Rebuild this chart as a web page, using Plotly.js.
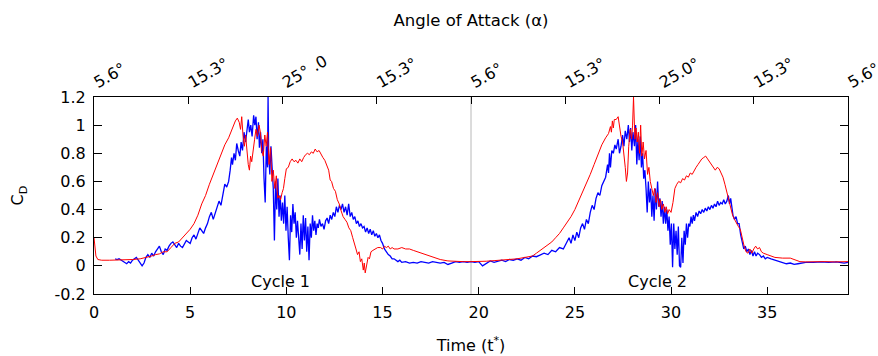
<!DOCTYPE html>
<html><head><meta charset="utf-8">
<script src="https://cdn.plot.ly/plotly-3.0.1.min.js"></script>
<style>html,body{margin:0;padding:0;background:#fff;}#chart{width:878px;height:356px;}</style>
</head><body><div id="chart"></div>
<script>
// ---- data ----
const redT = [0,0.05,0.1,0.2,0.4,0.8,1.2,1.6,2.0,2.4,2.8,3.0,3.2,3.4,3.6,3.8,4.0,4.2,4.4,4.6,4.8,5.0,5.2,5.4,5.6,5.8,6.0,6.2,6.4,6.6,6.8,7.0,7.2,7.35,7.45,7.55,7.62,7.68,7.75,7.82,7.88,7.95,8.02,8.08,8.14,8.2,8.28,8.35,8.42,8.5,8.58,8.65,8.72,8.8,8.88,8.95,9.02,9.1,9.18,9.25,9.32,9.4,9.48,9.55,9.62,9.7,9.78,9.85,9.92,10.0,10.1,10.2,10.3,10.4,10.5,10.6,10.7,10.8,10.9,11.0,11.1,11.2,11.3,11.4,11.5,11.6,11.7,11.8,11.9,12.0,12.1,12.2,12.28,12.35,12.45,12.55,12.65,12.75,12.85,12.95,13.05,13.15,13.25,13.35,13.45,13.55,13.62,13.7,13.78,13.85,13.92,14.0,14.05,14.1,14.18,14.25,14.32,14.4,14.5,14.6,14.75,14.9,15.0,15.1,15.2,15.3,15.4,15.5,15.6,15.8,16.0,16.2,16.4,16.6,16.8,17.0,17.2,17.4,17.6,17.8,18.0,18.4,18.8,19.2,19.6,20.0,20.4,20.8,21.2,21.6,22.0,22.4,22.8,23.0,23.2,23.4,23.6,23.8,24.0,24.2,24.4,24.6,24.8,25.0,25.2,25.4,25.6,25.8,26.0,26.2,26.4,26.6,26.75,26.85,26.9,26.95,27.0,27.05,27.15,27.25,27.32,27.4,27.48,27.55,27.62,27.68,27.74,27.8,27.88,27.95,28.0,28.05,28.12,28.18,28.24,28.3,28.36,28.42,28.48,28.55,28.62,28.7,28.78,28.85,28.92,29.0,29.08,29.15,29.22,29.3,29.38,29.45,29.52,29.6,29.68,29.75,29.82,29.9,30.0,30.1,30.2,30.3,30.4,30.5,30.6,30.7,30.8,30.9,31.0,31.1,31.2,31.3,31.4,31.5,31.6,31.7,31.8,31.9,32.0,32.1,32.2,32.3,32.4,32.5,32.6,32.7,32.8,32.9,33.0,33.1,33.2,33.3,33.4,33.5,33.6,33.7,33.8,33.9,34.0,34.1,34.2,34.3,34.4,34.5,34.6,34.7,34.8,35.0,35.2,35.4,35.8,36.2,36.5,36.7,37.0,37.5,38.0,38.5,39.0,39.2];
const redCD = [0.20,0.12,0.07,0.045,0.04,0.04,0.04,0.042,0.045,0.05,0.06,0.07,0.08,0.085,0.1,0.1,0.13,0.16,0.17,0.2,0.23,0.26,0.3,0.36,0.44,0.5,0.58,0.65,0.72,0.8,0.86,0.91,0.98,1.03,1.05,1.02,0.97,1.06,0.92,0.85,0.93,0.8,0.72,0.68,0.78,0.74,0.85,0.9,0.97,0.92,1.0,0.95,0.82,0.78,0.93,0.85,0.95,0.72,0.84,0.6,0.68,0.55,0.64,0.48,0.5,0.47,0.52,0.55,0.62,0.69,0.7,0.74,0.76,0.74,0.75,0.73,0.76,0.74,0.77,0.79,0.8,0.79,0.81,0.8,0.83,0.81,0.82,0.79,0.77,0.75,0.72,0.68,0.61,0.6,0.55,0.53,0.47,0.44,0.39,0.35,0.33,0.31,0.27,0.25,0.2,0.16,0.12,0.08,0.1,0.03,0.05,-0.03,0.02,-0.05,0.0,0.06,0.05,0.1,0.11,0.12,0.13,0.13,0.12,0.14,0.13,0.14,0.12,0.13,0.12,0.12,0.13,0.12,0.12,0.11,0.1,0.09,0.08,0.07,0.06,0.05,0.045,0.035,0.03,0.03,0.03,0.03,0.033,0.037,0.04,0.045,0.05,0.06,0.07,0.09,0.11,0.13,0.15,0.17,0.2,0.23,0.27,0.31,0.35,0.4,0.46,0.52,0.58,0.65,0.72,0.79,0.86,0.91,0.94,0.99,0.95,1.03,0.98,1.04,1.04,1.06,0.98,0.92,0.88,0.8,0.7,0.6,0.66,0.85,0.97,0.9,1.0,1.2,0.9,0.98,0.88,0.95,0.8,1.0,0.78,0.88,0.76,0.82,0.65,0.7,0.6,0.55,0.5,0.55,0.45,0.52,0.42,0.47,0.4,0.44,0.38,0.42,0.37,0.4,0.38,0.45,0.55,0.58,0.6,0.59,0.62,0.61,0.64,0.63,0.66,0.65,0.68,0.7,0.72,0.74,0.76,0.77,0.78,0.76,0.74,0.72,0.7,0.68,0.7,0.69,0.66,0.63,0.58,0.53,0.47,0.41,0.36,0.33,0.3,0.28,0.26,0.19,0.14,0.1,0.09,0.12,0.09,0.12,0.14,0.12,0.13,0.1,0.09,0.08,0.07,0.06,0.055,0.055,0.04,0.03,0.028,0.03,0.03,0.028,0.03,0.03];

const blueT = [1.1,1.2,1.3,1.4,1.5,1.6,1.7,1.8,1.9,2.0,2.1,2.2,2.3,2.4,2.5,2.6,2.7,2.8,2.9,3.0,3.1,3.2,3.3,3.4,3.5,3.6,3.7,3.8,3.9,4.0,4.1,4.2,4.3,4.4,4.5,4.6,4.7,4.8,4.9,5.0,5.1,5.2,5.3,5.4,5.5,5.6,5.7,5.8,5.9,6.0,6.1,6.2,6.3,6.4,6.5,6.6,6.7,6.8,6.9,7.0,7.08,7.15,7.2,7.28,7.35,7.42,7.5,7.58,7.65,7.72,7.8,7.88,7.95,8.02,8.08,8.15,8.22,8.3,8.36,8.42,8.48,8.55,8.6,8.66,8.72,8.78,8.84,8.9,8.96,9.02,9.05,9.08,9.14,9.2,9.26,9.32,9.38,9.44,9.5,9.56,9.62,9.68,9.74,9.8,9.86,9.92,9.98,10.04,10.1,10.16,10.22,10.28,10.34,10.4,10.46,10.52,10.58,10.64,10.7,10.76,10.82,10.88,10.94,11.0,11.06,11.12,11.18,11.24,11.3,11.36,11.42,11.48,11.54,11.6,11.66,11.72,11.8,11.88,11.96,12.04,12.12,12.2,12.28,12.36,12.44,12.52,12.6,12.68,12.76,12.84,12.92,13.0,13.08,13.16,13.24,13.32,13.4,13.48,13.56,13.64,13.72,13.8,13.88,13.96,14.04,14.12,14.2,14.28,14.36,14.44,14.52,14.6,14.68,14.76,14.84,14.92,15.0,15.1,15.2,15.3,15.4,15.5,15.6,15.7,15.8,15.9,16.0,16.2,16.4,16.6,16.8,17.0,17.2,17.4,17.6,17.8,18.0,18.2,18.4,18.6,18.8,19.0,19.2,19.4,19.6,19.8,20.0,20.2,20.4,20.6,20.8,21.0,21.2,21.4,21.6,21.8,22.0,22.2,22.4,22.6,22.8,23.0,23.2,23.4,23.6,23.8,24.0,24.2,24.4,24.6,24.7,24.8,24.9,25.0,25.1,25.2,25.3,25.4,25.5,25.6,25.7,25.8,25.9,26.0,26.1,26.2,26.3,26.4,26.5,26.6,26.7,26.75,26.8,26.85,26.92,27.0,27.08,27.15,27.25,27.32,27.4,27.48,27.55,27.62,27.7,27.78,27.84,27.9,27.96,28.02,28.1,28.16,28.22,28.28,28.34,28.4,28.46,28.52,28.58,28.64,28.7,28.76,28.82,28.88,28.94,29.0,29.06,29.12,29.18,29.24,29.3,29.36,29.42,29.48,29.54,29.6,29.66,29.72,29.78,29.84,29.9,29.96,30.02,30.08,30.14,30.2,30.26,30.32,30.38,30.44,30.5,30.56,30.62,30.68,30.74,30.8,30.86,30.92,30.98,31.04,31.1,31.16,31.22,31.3,31.38,31.46,31.54,31.62,31.7,31.78,31.86,31.94,32.02,32.1,32.18,32.26,32.34,32.42,32.5,32.58,32.66,32.74,32.82,32.9,32.98,33.04,33.1,33.16,33.22,33.3,33.38,33.46,33.54,33.62,33.7,33.78,33.86,33.94,34.02,34.1,34.18,34.26,34.34,34.42,34.5,34.6,34.7,34.8,34.9,35.0,35.2,35.4,35.6,35.8,36.0,36.2,36.4,36.6,36.8,37.0,37.4,37.8,38.2,38.6,39.0,39.2];
const blueCD = [0.05,0.045,0.05,0.04,0.035,0.025,0.015,0.03,0.02,0.04,0.05,0.06,0.04,0.02,0.0,0.02,0.06,0.08,0.06,0.09,0.07,0.1,0.12,0.14,0.1,0.08,0.12,0.11,0.14,0.16,0.17,0.15,0.13,0.16,0.14,0.13,0.16,0.18,0.17,0.16,0.2,0.22,0.19,0.24,0.27,0.25,0.23,0.27,0.3,0.35,0.38,0.33,0.37,0.42,0.46,0.43,0.5,0.58,0.56,0.6,0.68,0.77,0.72,0.8,0.75,0.87,0.82,0.78,0.88,0.82,0.95,0.88,0.96,1.04,0.95,1.0,0.92,1.07,1.0,1.06,0.9,1.02,0.84,0.95,0.8,0.9,0.62,0.45,0.85,0.7,1.2,0.8,0.65,0.85,0.7,0.55,0.18,0.6,0.4,0.62,0.35,0.5,0.32,0.45,0.3,0.5,0.25,0.42,0.2,0.04,0.36,0.24,0.44,0.3,0.38,0.2,0.32,0.15,0.08,0.3,0.12,0.36,0.18,0.34,0.1,0.28,0.04,0.3,0.2,0.36,0.25,0.32,0.22,0.3,0.27,0.33,0.28,0.3,0.26,0.32,0.34,0.3,0.36,0.33,0.38,0.35,0.42,0.38,0.43,0.4,0.44,0.38,0.42,0.36,0.44,0.35,0.38,0.33,0.35,0.3,0.32,0.28,0.3,0.27,0.28,0.24,0.27,0.23,0.26,0.22,0.25,0.21,0.23,0.2,0.22,0.18,0.16,0.12,0.1,0.08,0.07,0.05,0.05,0.04,0.03,0.04,0.025,0.03,0.02,0.025,0.02,0.03,0.025,0.02,0.03,0.025,0.02,0.025,0.01,0.02,0.03,0.025,0.03,0.025,0.03,0.025,0.03,0.0,0.02,0.035,0.025,0.03,0.04,0.03,0.045,0.04,0.05,0.04,0.06,0.05,0.07,0.065,0.08,0.09,0.08,0.11,0.1,0.13,0.12,0.17,0.2,0.16,0.22,0.18,0.24,0.2,0.27,0.3,0.26,0.33,0.3,0.38,0.43,0.4,0.48,0.52,0.5,0.57,0.6,0.63,0.72,0.66,0.8,0.7,0.82,0.8,0.86,0.83,0.9,0.8,0.85,0.93,0.85,0.96,0.9,1.0,0.88,0.98,0.82,0.95,0.85,1.0,0.72,0.9,0.75,0.92,0.7,0.8,0.62,0.68,0.55,0.38,0.6,0.45,0.55,0.35,0.5,0.32,0.55,0.4,0.6,0.42,0.48,0.35,0.46,0.3,0.42,0.3,0.4,0.25,0.35,0.15,0.3,-0.01,0.3,0.12,0.25,0.08,0.28,0.0,-0.01,0.2,0.02,0.25,0.15,0.3,0.2,0.3,0.28,0.35,0.3,0.36,0.32,0.38,0.35,0.39,0.37,0.4,0.38,0.41,0.39,0.42,0.4,0.43,0.41,0.44,0.42,0.46,0.43,0.45,0.44,0.47,0.44,0.46,0.5,0.44,0.48,0.4,0.36,0.33,0.35,0.3,0.3,0.22,0.16,0.12,0.14,0.1,0.12,0.08,0.11,0.07,0.1,0.07,0.09,0.08,0.06,0.07,0.05,0.06,0.05,0.04,0.03,0.02,0.015,0.02,0.01,0.015,0.02,0.025,0.025,0.028,0.025,0.028,0.02,0.025];

const bottomTicks = [0,5,10,15,20,25,30,35];
const topTickT = [0,4.9,9.8,14.7,19.6,24.5,29.4,34.3,39.2];
const topTickText = ['5.6°','15.3°','25° .0','15.3°','5.6°','15.3°','25.0°','15.3°','5.6°'];
const yTickVals = [-0.2,0,0.2,0.4,0.6,0.8,1,1.2];
const yTickText = ['-0.2','0','0.2','0.4','0.6','0.8','1','1.2'];
const cycleBoundaryT = 19.6;
const cycleLabels = ['Cycle 1','Cycle 2'];
const cycleLabelT = [9.72,29.3];
const cycleLabelCD = [-0.11,-0.11];
const xRange = [0,39.2];
const yRange = [-0.2,1.2];

const font = {family:'DejaVu Sans, sans-serif', size:16, color:'#000'};
const titleFont = {family:'DejaVu Sans, sans-serif', size:16.5, color:'#000'};

const traces = [
  {x: blueT, y: blueCD, type:'scatter', mode:'lines', line:{color:'#0000ff', width:1.3}, hoverinfo:'skip', showlegend:false},
  {x: redT, y: redCD, type:'scatter', mode:'lines', line:{color:'#ff0000', width:1}, hoverinfo:'skip', showlegend:false},
  {x: topTickT, y: topTickT.map(()=>null), xaxis:'x2', type:'scatter', mode:'lines', showlegend:false, hoverinfo:'skip'}
];

const layout = {
  width:878, height:356,
  margin:{l:94, r:30, t:97, b:62, pad:0},
  paper_bgcolor:'#fff', plot_bgcolor:'#fff',
  font: font,
  showlegend:false,
  title:{text:'Angle of Attack (α)', font:titleFont, x:0.5, xref:'paper', xanchor:'center', y:0.944, yref:'container', yanchor:'middle'},
  xaxis:{range:xRange, tickvals:bottomTicks, ticks:'inside', ticklen:7, tickcolor:'#000', tickwidth:1,
         showline:true, linecolor:'#000', linewidth:1, mirror:false, showgrid:false, zeroline:false,
         tickfont:font, ticklabelstandoff:4, title:{text:'Time (t<sup>*</sup>)', font:font, standoff:18}},
  xaxis2:{range:xRange, overlaying:'x', side:'top', tickvals:topTickT, ticktext:topTickText, tickangle:-30,
          ticks:'inside', ticklen:7, tickcolor:'#000', showline:true, linecolor:'#000', linewidth:1,
          showgrid:false, zeroline:false, tickfont:font, ticklabeloverflow:'allow'},
  yaxis:{range:yRange, tickvals:yTickVals, ticktext:yTickText, ticks:'inside', ticklen:8, tickcolor:'#000',
         showline:true, linecolor:'#000', linewidth:1, mirror:'ticks', showgrid:false, zeroline:false,
         tickfont:font, ticklabelstandoff:4, title:{text:'C<sub>D</sub>', font:font, standoff:26}},
  shapes:[{type:'line', xref:'x', yref:'paper', x0:cycleBoundaryT, x1:cycleBoundaryT, y0:0, y1:1, line:{color:'#b8b8b8', width:1}, layer:'below'}],
  annotations: cycleLabels.map((s,i)=>({text:s, x:cycleLabelT[i], y:cycleLabelCD[i], xref:'x', yref:'y', showarrow:false, font:font, xanchor:'center', yanchor:'middle'}))
};

Plotly.newPlot('chart', traces, layout, {staticPlot:true, displayModeBar:false});
</script>
</body></html>
